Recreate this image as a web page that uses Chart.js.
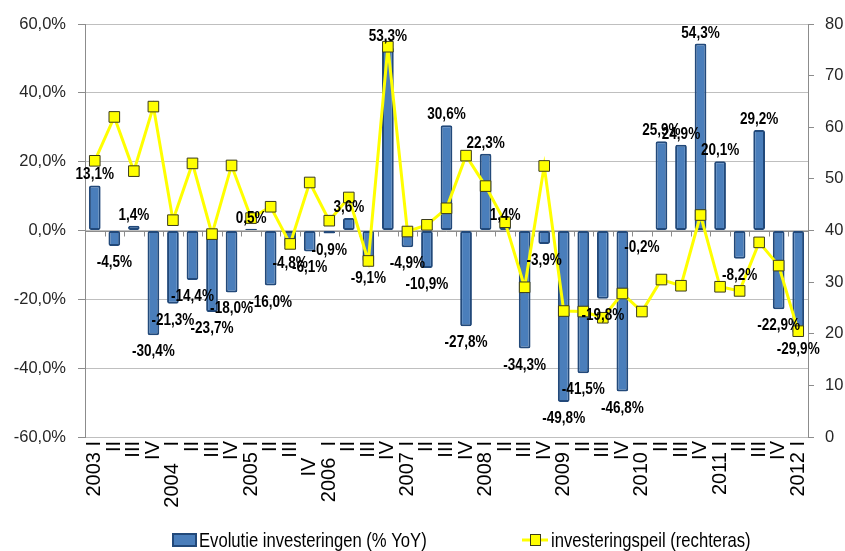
<!DOCTYPE html>
<html>
<head>
<meta charset="utf-8">
<title>Investeringen</title>
<script src="https://cdn.jsdelivr.net/npm/chart.js@4/dist/chart.umd.min.js"></script>
<style>
  html, body { margin: 0; padding: 0; background: #fff; }
  #wrap { width: 845px; height: 551px; }
</style>
</head>
<body>
<div id="wrap"><canvas id="chart"></canvas></div>
<script>
'use strict';

/* ----------------------------------------------------------
   DATA
---------------------------------------------------------- */
const quarterLabels = [
  '2003 I', 'II', 'III', 'IV',
  '2004   I', 'II', 'III', 'IV',
  '2005 I', 'II', 'III', 'IV   ',
  '2006  I', 'II', 'III', 'IV',
  '2007 I', 'II', 'III', 'IV',
  '2008 I', 'II', 'III', 'IV',
  '2009 I', 'II', 'III', 'IV',
  '2010 I', 'II', 'III', 'IV',
  '2011 I', 'II', 'III', 'IV',
  '2012 I'
];

/* Evolutie investeringen (% YoY) - left axis */
const investGrowth = [
  13.1, -4.5, 1.4, -30.4,
  -21.3, -14.4, -23.7, -18.0,
  0.5, -16.0, -4.8, -6.1,
  -0.9, 3.6, -9.1, 53.3,
  -4.9, -10.9, 30.6, -27.8,
  22.3, 1.4, -34.3, -3.9,
  -49.8, -41.5, -19.8, -46.8,
  -0.2, 25.9, 24.9, 54.3,
  20.1, -8.2, 29.2, -22.9,
  -29.9
];

/* investeringspeil (rechteras) - right axis */
const investLevel = [
  53.5, 62.0, 51.5, 64.0,
  42.0, 53.0, 39.3, 52.6,
  42.4, 44.6, 37.4, 49.3,
  41.9, 46.4, 34.1, 75.6,
  39.8, 41.1, 44.3, 54.5,
  48.6, 41.6, 29.0, 52.5,
  24.4, 24.3, 23.1, 27.8,
  24.3, 30.5, 29.3, 43.0,
  29.1, 28.3, 37.7, 33.2,
  20.5
];

const leftTickValues  = [-60, -40, -20, 0, 20, 40, 60];
const rightTickValues = [0, 10, 20, 30, 40, 50, 60, 70, 80];

const seriesNames = ['Evolutie investeringen (% YoY)', 'investeringspeil (rechteras)'];

/* ----------------------------------------------------------
   STYLE
---------------------------------------------------------- */
const REGULAR = "'Liberation Sans', Arial, sans-serif";
/* no narrow face installed: squeeze the regular one horizontally */
const NARROW_SCALE = 0.82;

const BAR_FILL   = '#4a7ebb';
const BAR_BORDER = '#22497a';
const LINE_COLOR = '#ffff00';
const MARK_EDGE  = '#3b3b1a';
const AXIS_GRAY  = '#8c8c8c';
const GRID_GRAY  = '#bfbfbf';

function fmtPct(v) {
  return v.toFixed(1).replace('.', ',') + '%';
}

/* draw text squeezed like Arial Narrow */
function narrowText(ctx, txt, x, y) {
  ctx.save();
  ctx.translate(x, y);
  ctx.scale(NARROW_SCALE, 1);
  ctx.fillText(txt, 0, 0);
  ctx.restore();
}

/* ----------------------------------------------------------
   PLUGINS
---------------------------------------------------------- */

/* zero line with small category ticks (Excel axis crossing at 0) */
const zeroAxisPlugin = {
  id: 'zeroAxis',
  beforeDatasetsDraw(chart) {
    const { ctx, chartArea, scales } = chart;
    const y0 = Math.round(scales.y.getPixelForValue(0)) + 0.5;
    const xs = scales.x;
    const n = quarterLabels.length;
    const step = xs.getPixelForValue(1) - xs.getPixelForValue(0);
    ctx.save();
    ctx.strokeStyle = AXIS_GRAY;
    ctx.lineWidth = 1;
    ctx.beginPath();
    ctx.moveTo(chartArea.left, y0);
    ctx.lineTo(chartArea.right, y0);
    for (let i = 0; i <= n; i++) {
      const x = Math.round(xs.getPixelForValue(0) + (i - 0.5) * step) + 0.5;
      ctx.moveTo(x, y0);
      ctx.lineTo(x, y0 + 5);
    }
    ctx.stroke();
    ctx.restore();
  }
};

/* value labels on the bars, drawn on top of everything */
const barLabelPlugin = {
  id: 'barLabels',
  afterDatasetsDraw(chart) {
    const meta = chart.getDatasetMeta(0);
    const ctx = chart.ctx;
    ctx.save();
    ctx.font = 'bold 16.5px ' + REGULAR;
    ctx.fillStyle = '#000';
    ctx.textAlign = 'center';
    ctx.textBaseline = 'alphabetic';
    meta.data.forEach((bar, i) => {
      const v = investGrowth[i];
      const y = v >= 0 ? bar.y - 6 : bar.y + 21;
      narrowText(ctx, fmtPct(v), bar.x, y);
    });
    ctx.restore();
  }
};

/* legend in Excel style: box for bars, line + marker for the line */
const legendPlugin = {
  id: 'excelLegend',
  afterDraw(chart) {
    const ctx = chart.ctx;
    const yc = 540;
    ctx.save();
    ctx.font = '20.3px ' + REGULAR;
    ctx.textBaseline = 'middle';
    ctx.textAlign = 'left';

    ctx.fillStyle = BAR_FILL;
    ctx.strokeStyle = BAR_BORDER;
    ctx.lineWidth = 2;
    ctx.fillRect(173, yc - 6, 23, 12);
    ctx.strokeRect(173, yc - 6, 23, 12);
    ctx.fillStyle = '#000';
    narrowText(ctx, seriesNames[0], 199, yc + 1);

    ctx.strokeStyle = LINE_COLOR;
    ctx.lineWidth = 3;
    ctx.beginPath();
    ctx.moveTo(522, yc);
    ctx.lineTo(548, yc);
    ctx.stroke();
    ctx.fillStyle = LINE_COLOR;
    ctx.strokeStyle = MARK_EDGE;
    ctx.lineWidth = 1;
    ctx.fillRect(530.5, yc - 5.5, 10, 11);
    ctx.strokeRect(530.5, yc - 5.5, 10, 11);
    ctx.fillStyle = '#000';
    narrowText(ctx, seriesNames[1], 551, yc + 1);
    ctx.restore();
  }
};

/* ----------------------------------------------------------
   CHART
---------------------------------------------------------- */
new Chart(document.getElementById('chart'), {
  data: {
    labels: quarterLabels,
    datasets: [
      {
        type: 'bar',
        label: seriesNames[0],
        data: investGrowth,
        yAxisID: 'y',
        backgroundColor: BAR_FILL,
        borderColor: BAR_BORDER,
        borderWidth: 2,
        borderSkipped: false,
        borderRadius: 2,
        barPercentage: 0.6,
        categoryPercentage: 1,
        order: 2
      },
      {
        type: 'line',
        label: seriesNames[1],
        data: investLevel,
        yAxisID: 'y1',
        borderColor: LINE_COLOR,
        borderWidth: 3,
        tension: 0,
        pointStyle: 'rect',
        pointRadius: 7.5,
        pointBackgroundColor: LINE_COLOR,
        pointBorderColor: MARK_EDGE,
        pointBorderWidth: 1,
        order: 1
      }
    ]
  },
  options: {
    responsive: true,
    maintainAspectRatio: false,
    animation: false,
    devicePixelRatio: 1,
    layout: { padding: { top: 24, left: 0, right: 0, bottom: 30 } },
    plugins: {
      legend: { display: false },
      tooltip: { enabled: false }
    },
    scales: {
      x: {
        type: 'category',
        offset: true,
        grid: { display: false, drawTicks: false },
        border: { display: false },
        ticks: {
          autoSkip: false,
          minRotation: 90,
          maxRotation: 90,
          padding: 4,
          color: '#000',
          font: { family: REGULAR, size: 20 }
        },
        afterFit(s) { s.height = 84; }
      },
      y: {
        position: 'left',
        min: -60,
        max: 60,
        afterBuildTicks(s) { s.ticks = leftTickValues.map(v => ({ value: v })); },
        grid: { color: GRID_GRAY, lineWidth: 1, tickLength: 7, tickColor: AXIS_GRAY },
        border: { display: true, color: AXIS_GRAY },
        ticks: {
          padding: 12,
          color: '#262626',
          font: { family: REGULAR, size: 16.5 },
          callback: v => fmtPct(v)
        },
        afterFit(s) { s.width = 85; }
      },
      y1: {
        position: 'right',
        min: 0,
        max: 80,
        afterBuildTicks(s) { s.ticks = rightTickValues.map(v => ({ value: v })); },
        grid: { drawOnChartArea: false, tickLength: 6, tickColor: AXIS_GRAY },
        border: { display: true, color: AXIS_GRAY },
        ticks: {
          padding: 11,
          color: '#262626',
          font: { family: REGULAR, size: 16.5 }
        },
        afterFit(s) { s.width = 37; }
      }
    }
  },
  plugins: [zeroAxisPlugin, barLabelPlugin, legendPlugin]
});
</script>
</body>
</html>
